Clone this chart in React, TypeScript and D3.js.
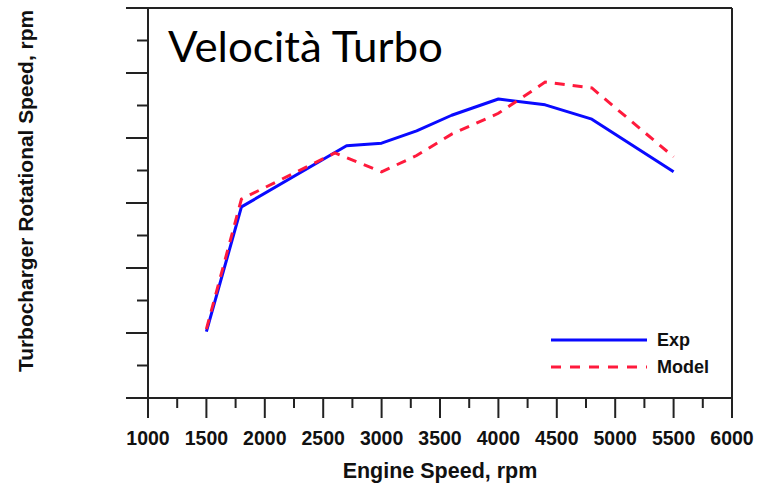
import React from "react";
import * as d3 from "d3";

// Engine speed (rpm)
const expRpm = [1500, 1800, 2700, 3000, 3300, 3600, 4000, 4400, 4800, 5500];
// Turbocharger speed (relative units, one unit per major y tick)
const expSpeed = [1.02, 2.94, 3.88, 3.92, 4.11, 4.35, 4.6, 4.51, 4.29, 3.48];

const modelRpm = [1500, 1800, 2600, 3000, 3300, 3600, 4000, 4400, 4800, 5500];
const modelSpeed = [1.06, 3.06, 3.77, 3.48, 3.73, 4.06, 4.38, 4.86, 4.77, 3.71];

const xTicks = [1000, 1500, 2000, 2500, 3000, 3500, 4000, 4500, 5000, 5500, 6000];
const xMinorTicks = [1250, 1750, 2250, 2750, 3250, 3750, 4250, 4750, 5250, 5750];
const yTicks = [0, 1, 2, 3, 4, 5, 6];
const yMinorTicks = [0.5, 1.5, 2.5, 3.5, 4.5, 5.5];

const seriesNames = ["Exp", "Model"];

export default function App() {
  const W = 762, H = 484;
  const left = 148, right = 732, top = 8, bottom = 398;
  const x = d3.scaleLinear().domain([1000, 6000]).range([left, right]);
  const y = d3.scaleLinear().domain([0, 6]).range([bottom, top]);
  const line = d3
    .line<[number, number]>()
    .x((d) => x(d[0]))
    .y((d) => y(d[1]));
  const expData: [number, number][] = expRpm.map((r, i) => [r, expSpeed[i]]);
  const modelData: [number, number][] = modelRpm.map((r, i) => [r, modelSpeed[i]]);
  const axisColor = "#222";
  const sans = "'Liberation Sans', Arial, sans-serif";

  return (
    <svg
      width={W}
      height={H}
      style={{ position: "absolute", left: 0, top: 0, background: "#fff" }}
    >
      {/* frame */}
      <line x1={126} x2={right} y1={top} y2={top} stroke={axisColor} strokeWidth={2} />
      <line x1={126} x2={right} y1={bottom} y2={bottom} stroke={axisColor} strokeWidth={2} />
      <line x1={left} x2={left} y1={top} y2={bottom} stroke={axisColor} strokeWidth={2} />
      <line x1={right} x2={right} y1={top} y2={bottom} stroke={axisColor} strokeWidth={2} />

      {/* x ticks */}
      {xTicks.map((t) => (
        <g key={"xt" + t}>
          <line x1={x(t)} x2={x(t)} y1={bottom} y2={bottom + 20} stroke={axisColor} strokeWidth={2} />
          <text
            x={x(t)}
            y={445}
            textAnchor="middle"
            fontFamily={sans}
            fontWeight="bold"
            fontSize={19.5}
            fill="#111"
          >
            {t}
          </text>
        </g>
      ))}
      {xMinorTicks.map((t) => (
        <line key={"xm" + t} x1={x(t)} x2={x(t)} y1={bottom} y2={bottom + 10} stroke={axisColor} strokeWidth={2} />
      ))}

      {/* y ticks */}
      {yTicks.map((t) => (
        <line key={"yt" + t} x1={126} x2={left} y1={y(t)} y2={y(t)} stroke={axisColor} strokeWidth={2} />
      ))}
      {yMinorTicks.map((t) => (
        <line key={"ym" + t} x1={137} x2={left} y1={y(t)} y2={y(t)} stroke={axisColor} strokeWidth={2} />
      ))}

      {/* axis titles */}
      <text
        x={440}
        y={478}
        textAnchor="middle"
        fontFamily={sans}
        fontWeight="bold"
        fontSize={21.5}
        fill="#111"
      >
        Engine Speed, rpm
      </text>
      <text
        transform="translate(33,191) rotate(-90)"
        textAnchor="middle"
        fontFamily={sans}
        fontWeight="bold"
        fontSize={19.5}
        textLength={362}
        lengthAdjust="spacingAndGlyphs"
        fill="#111"
      >
        Turbocharger Rotational Speed, rpm
      </text>

      {/* title */}
      <text
        x={168}
        y={62}
        fontFamily="Lato, 'Open Sans', sans-serif"
        fontSize={42}
        textLength={275}
        lengthAdjust="spacingAndGlyphs"
        fill="#000"
      >
        Velocità Turbo
      </text>

      {/* series */}
      <path d={line(expData) || ""} fill="none" stroke="#0a0aff" strokeWidth={3} strokeLinejoin="round" />
      <path
        d={line(modelData) || ""}
        fill="none"
        stroke="#ff1a3c"
        strokeWidth={3}
        strokeDasharray="10,8"
      />

      {/* legend */}
      <line x1={551} x2={647} y1={340} y2={340} stroke="#0a0aff" strokeWidth={3} />
      <text x={657} y={346} fontFamily={sans} fontWeight="bold" fontSize={18} fill="#111">
        {seriesNames[0]}
      </text>
      <line x1={551} x2={647} y1={367} y2={367} stroke="#ff1a3c" strokeWidth={3} strokeDasharray="10,9" />
      <text x={657} y={373} fontFamily={sans} fontWeight="bold" fontSize={18} fill="#111">
        {seriesNames[1]}
      </text>
    </svg>
  );
}
